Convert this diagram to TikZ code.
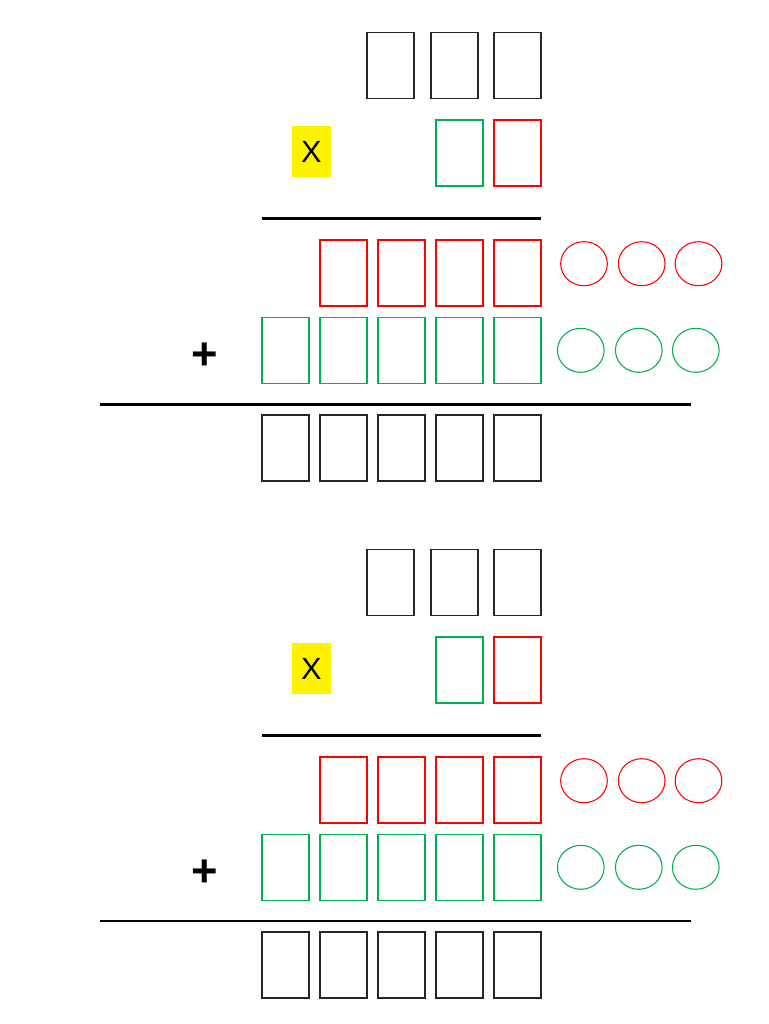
\documentclass[tikz,border=0pt]{standalone}
\usepackage{fontspec}
\setmainfont{Liberation Sans}
\usetikzlibrary{shapes.geometric}
\definecolor{xgreen}{RGB}{0,176,80}
\definecolor{xred}{RGB}{255,0,0}
\begin{document}
\begin{tikzpicture}[x=0.75pt,y=-0.75pt,
  digit/.style={draw,line width=0.8pt,minimum width=35.25pt,minimum height=49.5pt,inner sep=0pt,outer sep=0pt},
  blackbox/.style={digit,draw=black!85},
  greenbox/.style={digit,draw=xgreen},
  redbox/.style={digit,draw=xred},
  carry/.style={ellipse,draw,line width=0.8pt,minimum width=35pt,minimum height=33pt,inner sep=0pt},
  redcarry/.style={carry,draw=xred},
  greencarry/.style={carry,draw=xgreen},
  timessign/.style={fill=yellow,minimum width=29.5pt,minimum height=38.7pt,inner sep=0pt,font=\fontsize{23}{27}\selectfont},
  plussign/.style={inner sep=0pt,font=\fontsize{34}{40}\selectfont\bfseries},
  rule/.style={draw=black}]
\fill[white] (0,0) rectangle (768,1024);
\useasboundingbox (0,0) rectangle (768,1024);
\foreach \s/\dy/\lw in {a/0/2.25pt, b/517/1.5pt} {
\begin{scope}[shift={(0,\dy)}]
  % first factor
  \node[blackbox] (f1\s) at (390.5,65.3) {};
  \node[blackbox] (f2\s) at (454.5,65.3) {};
  \node[blackbox] (f3\s) at (517.5,65.3) {};
  % second factor
  \node[timessign] (x\s) at (311.3,151.5) {X};
  \node[greenbox] (g\s) at (459.5,153) {};
  \node[redbox] (r\s) at (517.5,153) {};
  % first rule
  \coordinate (la\s) at (262,218.3);
  \coordinate (lb\s) at (541,218.3);
  \draw[rule,line width=2.25pt] (la\s) -- (lb\s);
  % red partial product
  \node[redbox] (p1\s) at (343.5,273) {};
  \node[redbox] (p2\s) at (401.5,273) {};
  \node[redbox] (p3\s) at (459.5,273) {};
  \node[redbox] (p4\s) at (517.5,273) {};
  \node[redcarry] (rc1\s) at (584,263.7) {};
  \node[redcarry] (rc2\s) at (641.7,263.7) {};
  \node[redcarry] (rc3\s) at (698.5,263.7) {};
  % green partial product
  \node[plussign] (plus\s) at (204.3,356.5) {+};
  \node[greenbox] (q1\s) at (285.5,350.3) {};
  \node[greenbox] (q2\s) at (343.5,350.3) {};
  \node[greenbox] (q3\s) at (401.5,350.3) {};
  \node[greenbox] (q4\s) at (459.5,350.3) {};
  \node[greenbox] (q5\s) at (517.5,350.3) {};
  \node[greencarry] (gc1\s) at (580.8,350.3) {};
  \node[greencarry] (gc2\s) at (638.8,350.3) {};
  \node[greencarry] (gc3\s) at (695.8,350.3) {};
  % second rule
  \coordinate (ma\s) at (100,404.3);
  \coordinate (mb\s) at (691,404.3);
  \draw[rule,line width=\lw] (ma\s) -- (mb\s);
  % result
  \node[blackbox] (s1\s) at (285.5,448) {};
  \node[blackbox] (s2\s) at (343.5,448) {};
  \node[blackbox] (s3\s) at (401.5,448) {};
  \node[blackbox] (s4\s) at (459.5,448) {};
  \node[blackbox] (s5\s) at (517.5,448) {};
\end{scope}
}
\end{tikzpicture}
\end{document}
